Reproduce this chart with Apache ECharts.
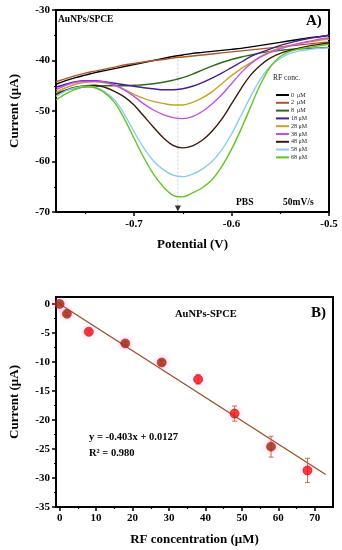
<!DOCTYPE html>
<html>
<head>
<meta charset="utf-8">
<script src="https://cdn.jsdelivr.net/npm/echarts@6/dist/echarts.min.js"></script>
<style>
html,body{margin:0;padding:0;background:#fff;}
#chart{width:342px;height:550px;}
</style>
</head>
<body>
<div id="chart"></div>
<script>
// ---------- Panel A data ----------
const potentials = [-0.78,-0.77,-0.76,-0.75,-0.74,-0.73,-0.72,-0.71,-0.70,-0.69,-0.68,-0.67,-0.66,-0.65,-0.64,-0.63,-0.62,-0.61,-0.60,-0.59,-0.58,-0.57,-0.56,-0.55,-0.54,-0.53,-0.52,-0.51,-0.50];
const curveNames = ['0  μM','2  μM','8  μM','18 μM','28 μM','38 μM','48 μM','58 μM','68 μM'];
const curve0  = [-44.7,-44.0,-43.4,-42.9,-42.4,-42.0,-41.6,-41.2,-40.8,-40.4,-40.0,-39.6,-39.2,-38.9,-38.6,-38.4,-38.2,-38.0,-37.8,-37.6,-37.3,-37.0,-36.7,-36.4,-36.1,-35.8,-35.5,-35.3,-35.0];
const curve2  = [-44.2,-43.6,-43.0,-42.5,-42.1,-41.7,-41.3,-40.9,-40.6,-40.3,-40.0,-39.8,-39.5,-39.3,-39.1,-38.9,-38.7,-38.5,-38.3,-38.1,-37.9,-37.7,-37.5,-37.3,-37.1,-36.9,-36.7,-36.5,-36.4];
const curve8  = [-46.5,-45.9,-45.5,-45.2,-45.1,-45.0,-45.0,-45.0,-44.9,-44.8,-44.6,-44.3,-43.9,-43.4,-42.7,-41.9,-41.1,-40.4,-39.8,-39.3,-38.9,-38.5,-38.2,-38.0,-37.8,-37.7,-37.6,-37.5,-37.4];
const curve18 = [-45.3,-44.7,-44.2,-44.0,-44.0,-44.2,-44.5,-44.8,-45.1,-45.4,-45.6,-45.8,-45.8,-45.6,-45.1,-44.4,-43.5,-42.5,-41.4,-40.3,-39.2,-38.4,-37.7,-37.0,-36.5,-36.0,-35.6,-35.3,-35.0];
const curve28 = [-46.3,-45.4,-44.7,-44.3,-44.2,-44.4,-44.9,-45.7,-46.7,-47.5,-48.1,-48.5,-48.8,-48.8,-48.3,-47.4,-46.2,-44.6,-43.0,-41.6,-40.4,-39.2,-38.2,-37.5,-37.0,-36.6,-36.3,-36.0,-35.8];
const curve38 = [-45.8,-44.9,-44.3,-44.1,-44.1,-44.3,-44.8,-45.8,-47.1,-48.6,-49.8,-50.7,-51.3,-51.5,-51.1,-50.1,-48.6,-46.8,-44.6,-42.4,-40.6,-39.3,-38.4,-37.7,-37.1,-36.6,-36.2,-35.8,-35.5];
const curve48 = [-46.8,-45.9,-45.3,-45.0,-44.9,-45.3,-46.1,-47.2,-48.8,-51.0,-53.2,-55.3,-56.8,-57.3,-56.9,-55.8,-54.0,-51.6,-48.6,-45.5,-42.8,-40.9,-39.5,-38.6,-38.0,-37.5,-37.1,-36.8,-36.5];
const curve58 = [-47.1,-46.0,-45.4,-45.1,-45.3,-46.2,-47.8,-50.6,-54.1,-57.3,-59.9,-61.6,-62.7,-63.0,-62.5,-61.5,-60.0,-57.7,-54.6,-50.8,-47.0,-43.6,-41.1,-39.6,-38.6,-38.1,-37.8,-37.6,-37.5];
const curve68 = [-47.8,-46.6,-45.7,-45.2,-45.4,-46.4,-48.3,-51.5,-55.4,-59.2,-62.5,-65.0,-66.7,-67.0,-66.2,-65.2,-63.6,-61.0,-57.6,-53.5,-49.0,-44.6,-41.2,-39.2,-38.2,-37.7,-37.4,-37.1,-36.8];
const curves = [curve0,curve2,curve8,curve18,curve28,curve38,curve48,curve58,curve68];
const curveColors = ['#000000','#b0552b','#2f6a1c','#4a1f8c','#c9a21f','#c24ef2','#3a1b0c','#8ccaf2','#62c51e'];
const peakLine = [[-0.655,-39.0],[-0.655,-68.9]];
const peakArrow = [[-0.655,-69.3]];
const xTicksA = [-0.7,-0.6,-0.5];
const xMinorA = [-0.75,-0.65,-0.55];
const yTicksA = [-70,-60,-50,-40,-30];
const yMinorA = [-65,-55,-45,-35];

// ---------- Panel B data ----------
const concentration = [0,2,8,18,28,38,48,58,68];
const currentB = [0.0,-1.7,-4.8,-6.8,-10.1,-13.0,-18.9,-24.6,-28.7];
const errorB = [0.2,0.3,0.3,0.3,0.4,0.8,1.3,1.8,2.1];
const markerKind = ['b','b','r','b','b','r','r','b','r'];
const fitLine = [[0,0.0],[73,-29.4]];
const xTicksB = [0,10,20,30,40,50,60,70];
const xMinorB = [5,15,25,35,45,55,65];
const yTicksB = [-35,-30,-25,-20,-15,-10,-5,0];
const yMinorB = [-32.5,-27.5,-22.5,-17.5,-12.5,-7.5,-2.5];

const FONT = 'Liberation Serif';
const chart = echarts.init(document.getElementById('chart'), null, {renderer:'canvas'});

function mainAxis(extra){
  return Object.assign({
    type:'value',
    axisLine:{show:true,onZero:false,lineStyle:{color:'#000',width:2}},
    axisTick:{show:true,inside:false,length:4,lineStyle:{color:'#000',width:1.5}},
    axisLabel:{color:'#000',fontFamily:FONT,fontWeight:'bold',fontSize:11},
    splitLine:{show:false},
    nameLocation:'middle',
    nameTextStyle:{color:'#000',fontFamily:FONT,fontWeight:'bold',fontSize:13}
  }, extra);
}
function minorAxis(extra){
  return Object.assign({
    type:'value',
    axisLine:{show:false,onZero:false},
    axisTick:{show:true,inside:false,length:2,lineStyle:{color:'#000',width:1.2}},
    axisLabel:{show:false},
    splitLine:{show:false}
  }, extra);
}

const seriesA = curves.map((c,i)=>({
  name: curveNames[i],
  type:'line',
  xAxisIndex:0, yAxisIndex:0,
  data: potentials.map((p,j)=>[p,c[j]]),
  smooth:0.35,
  symbol:'none',
  lineStyle:{color:curveColors[i],width:1.4},
  itemStyle:{color:curveColors[i]},
  z:3+i
}));

const brown = '#8a2c05', red = '#ff0a0a';

const option = {
  backgroundColor:'#fff',
  animation:false,
  grid:[
    {left:50,top:10,width:279,height:202,show:true,borderColor:'#000',borderWidth:2,backgroundColor:'transparent'},
    {left:50,top:297,width:283,height:210,show:true,borderColor:'#000',borderWidth:2,backgroundColor:'transparent'}
  ],
  xAxis:[
    mainAxis({gridIndex:0,min:-0.78,max:-0.5,position:'bottom',
      axisTick:{show:true,length:4,lineStyle:{color:'#000',width:1.5},customValues:xTicksA},
      axisLabel:{color:'#000',fontFamily:FONT,fontWeight:'bold',fontSize:11,margin:7,customValues:xTicksA,formatter:v=>String(v)},
      name:'Potential (V)',nameGap:26}),
    minorAxis({gridIndex:0,min:-0.78,max:-0.5,position:'bottom',axisTick:{show:true,length:2,lineStyle:{color:'#000',width:1.2},customValues:xMinorA}}),
    mainAxis({gridIndex:1,min:-1,max:75,position:'bottom',
      axisTick:{show:true,length:4,lineStyle:{color:'#000',width:1.5},customValues:xTicksB},
      axisLabel:{color:'#000',fontFamily:FONT,fontWeight:'bold',fontSize:11,margin:6,customValues:xTicksB},
      name:'RF concentration (μM)',nameGap:26}),
    minorAxis({gridIndex:1,min:-1,max:75,position:'bottom',axisTick:{show:true,length:2,lineStyle:{color:'#000',width:1.2},customValues:xMinorB}})
  ],
  yAxis:[
    mainAxis({gridIndex:0,min:-70,max:-30,position:'left',
      axisTick:{show:true,length:4,lineStyle:{color:'#000',width:1.5},customValues:yTicksA},
      axisLabel:{color:'#000',fontFamily:FONT,fontWeight:'bold',fontSize:11,margin:6,customValues:yTicksA},
      name:'Current (μA)',nameGap:35}),
    minorAxis({gridIndex:0,min:-70,max:-30,position:'left',axisTick:{show:true,length:2,lineStyle:{color:'#000',width:1.2},customValues:yMinorA}}),
    mainAxis({gridIndex:1,min:-35,max:1.2,position:'left',
      axisTick:{show:true,length:4,lineStyle:{color:'#000',width:1.5},customValues:yTicksB},
      axisLabel:{color:'#000',fontFamily:FONT,fontWeight:'bold',fontSize:11,margin:6,customValues:yTicksB},
      name:'Current (μA)',nameGap:35}),
    minorAxis({gridIndex:1,min:-35,max:1.2,position:'left',axisTick:{show:true,length:2,lineStyle:{color:'#000',width:1.2},customValues:yMinorB}})
  ],
  legend:{
    data:curveNames,
    orient:'vertical',
    left:271, top:87,
    icon:'rect',
    itemWidth:13, itemHeight:2,
    itemGap:1.8,
    selectedMode:false,
    textStyle:{fontFamily:FONT,fontSize:6,lineHeight:6,color:'#222',padding:[0,0,0,-3]}
  },
  graphic:[
    {type:'text',left:58,top:15,style:{text:'AuNPs/SPCE',font:'bold 9.5px "Liberation Serif"',fill:'#000'}},
    {type:'text',left:306,top:14,style:{text:'A)',font:'bold 15px "Liberation Serif"',fill:'#000'}},
    {type:'text',left:273,top:74,style:{text:'RF conc.',font:'7.5px "Liberation Serif"',fill:'#222'}},
    {type:'text',left:236,top:198,style:{text:'PBS',font:'bold 9.5px "Liberation Serif"',fill:'#000'}},
    {type:'text',left:283,top:198,style:{text:'50mV/s',font:'bold 9.5px "Liberation Serif"',fill:'#000'}},
    {type:'text',left:175,top:309,style:{text:'AuNPs-SPCE',font:'bold 10.5px "Liberation Serif"',fill:'#000'}},
    {type:'text',left:311,top:306,style:{text:'B)',font:'bold 15px "Liberation Serif"',fill:'#000'}},
    {type:'text',left:89,top:432,style:{text:'y = -0.403x + 0.0127',font:'bold 10.5px "Liberation Serif"',fill:'#000'}},
    {type:'text',left:89,top:448,style:{text:'R² = 0.980',font:'bold 10.5px "Liberation Serif"',fill:'#000'}}
  ],
  series:[
    ...seriesA,
    {type:'line',xAxisIndex:0,yAxisIndex:0,data:peakLine,symbol:'none',silent:true,
     lineStyle:{color:'#b8b8b8',width:0.8,type:[2,2]},z:2},
    {type:'scatter',xAxisIndex:0,yAxisIndex:0,data:peakArrow,symbol:'triangle',symbolRotate:180,symbolSize:[6,6],
     itemStyle:{color:'#000'},z:20},
    {type:'line',xAxisIndex:2,yAxisIndex:2,data:fitLine,symbol:'none',
     lineStyle:{color:'#9a4a1f',width:1.2},z:3},
    {type:'custom',xAxisIndex:2,yAxisIndex:2,z:4,
     data:concentration.map((c,i)=>[c,currentB[i]-errorB[i],currentB[i]+errorB[i]]),
     renderItem:function(params,api){
       const x=api.value(0);
       const lo=api.coord([x,api.value(1)]);
       const hi=api.coord([x,api.value(2)]);
       const w=2.5;
       const st={stroke:'#b5653f',lineWidth:0.9};
       return {type:'group',children:[
         {type:'line',shape:{x1:lo[0],y1:lo[1],x2:hi[0],y2:hi[1]},style:st},
         {type:'line',shape:{x1:lo[0]-w,y1:lo[1],x2:lo[0]+w,y2:lo[1]},style:st},
         {type:'line',shape:{x1:hi[0]-w,y1:hi[1],x2:hi[0]+w,y2:hi[1]},style:st}
       ]};
     }},
    {type:'scatter',xAxisIndex:2,yAxisIndex:2,z:6,symbol:'circle',symbolSize:9,
     data:concentration.map((c,i)=>({value:[c,currentB[i]],
       itemStyle:{color:markerKind[i]==='b'?brown:red,borderColor:markerKind[i]==='b'?red:brown,borderWidth:0.8,
         shadowColor:'rgba(255,120,230,0.55)',shadowBlur:6}}))}
  ]
};
chart.setOption(option);
</script>
</body>
</html>
